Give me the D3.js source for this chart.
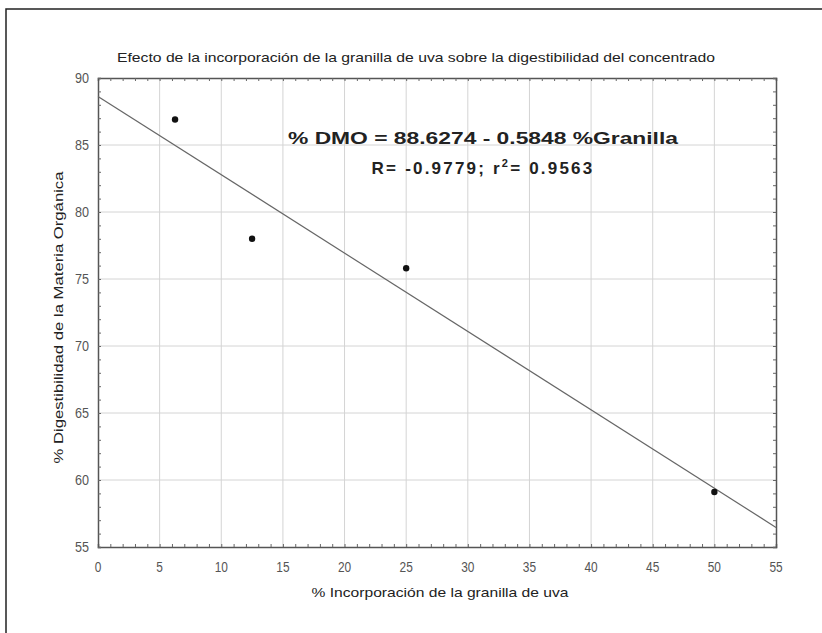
<!DOCTYPE html>
<html>
<head>
<meta charset="utf-8">
<script src="https://cdn.jsdelivr.net/npm/d3@7"></script>
<style>
  body { margin: 0; background: #fff; }
  svg text { font-family: "Liberation Sans", Arial, sans-serif; }
</style>
</head>
<body>
<svg id="chart" width="822" height="633"></svg>
<script>
// datos
const granilla = [6.25, 12.5, 25, 50];
const digestibilidad = [86.9, 78.0, 75.8, 59.1];
const xTicks = [0, 5, 10, 15, 20, 25, 30, 35, 40, 45, 50, 55];
const yTicks = [55, 60, 65, 70, 75, 80, 85, 90];
const intercept = 88.6274;
const slope = -0.5848;

const svg = d3.select('#chart');
const m = { left: 98, right: 776, top: 78, bottom: 547 };

const x = d3.scaleLinear().domain([0, 55]).range([m.left, m.right]);
const y = d3.scaleLinear().domain([55, 90]).range([m.bottom, m.top]);

// marco exterior
svg.append('path')
  .attr('d', 'M6,633 L6,9 L822,9')
  .attr('fill', 'none')
  .attr('stroke', '#222')
  .attr('stroke-width', 1.5);

// grilla
svg.append('g')
  .selectAll('line')
  .data(xTicks.slice(1, -1))
  .join('line')
  .attr('x1', (d) => x(d)).attr('x2', (d) => x(d))
  .attr('y1', m.top).attr('y2', m.bottom)
  .attr('stroke', '#d4d4d4');

svg.append('g')
  .selectAll('line')
  .data(yTicks.slice(1, -1))
  .join('line')
  .attr('y1', (d) => y(d)).attr('y2', (d) => y(d))
  .attr('x1', m.left).attr('x2', m.right)
  .attr('stroke', '#d4d4d4');

// ejes con marcas menores hacia adentro
const xMinor = d3.range(0, 56, 1);
const yMinor = d3.range(55, 91, 1);

const axisBottom = d3.axisBottom(x).tickValues(xMinor).tickSize(-3).tickFormat('');
const axisTop = d3.axisTop(x).tickValues(xMinor).tickSize(-3).tickFormat('');
const axisLeft = d3.axisLeft(y).tickValues(yMinor).tickSize(-3).tickFormat('');
const axisRight = d3.axisRight(y).tickValues(yMinor).tickSize(-3).tickFormat('');

function styleAxis(g) {
  g.select('.domain').attr('stroke', '#555').attr('stroke-width', 1.5);
  g.selectAll('.tick line').attr('stroke', '#666');
}

svg.append('g').attr('transform', `translate(0,${m.bottom})`).call(axisBottom).call(styleAxis);
svg.append('g').attr('transform', `translate(0,${m.top})`).call(axisTop).call(styleAxis);
svg.append('g').attr('transform', `translate(${m.left},0)`).call(axisLeft).call(styleAxis);
svg.append('g').attr('transform', `translate(${m.right},0)`).call(axisRight).call(styleAxis);

// etiquetas de ticks
svg.append('g')
  .selectAll('text')
  .data(xTicks)
  .join('text')
  .attr('text-anchor', 'middle')
  .attr('font-size', 14)
  .attr('fill', '#555')
  .attr('transform', (d) => `translate(${x(d)},${m.bottom + 25}) scale(0.85,1)`)
  .text((d) => d);

svg.append('g')
  .selectAll('text')
  .data(yTicks)
  .join('text')
  .attr('text-anchor', 'end')
  .attr('font-size', 14)
  .attr('fill', '#555')
  .attr('transform', (d) => `translate(${m.left - 9},${y(d) + 5}) scale(0.9,1)`)
  .text((d) => d);

// recta de regresion
const line = d3.line().x((d) => x(d)).y((d) => y(intercept + slope * d));
svg.append('path')
  .datum([0, 55])
  .attr('d', line)
  .attr('fill', 'none')
  .attr('stroke', '#666')
  .attr('stroke-width', 1.2);

// puntos
svg.append('g')
  .selectAll('circle')
  .data(granilla.map((g, i) => [g, digestibilidad[i]]))
  .join('circle')
  .attr('cx', (d) => x(d[0]))
  .attr('cy', (d) => y(d[1]))
  .attr('r', 3.2)
  .attr('fill', '#111');

// titulos
svg.append('text')
  .attr('x', 416).attr('y', 62)
  .attr('text-anchor', 'middle')
  .attr('font-size', 13)
  .attr('fill', '#222')
  .attr('textLength', 598)
  .attr('lengthAdjust', 'spacingAndGlyphs')
  .text('Efecto de la incorporación de la granilla de uva sobre la digestibilidad del concentrado');

svg.append('text')
  .attr('x', 440).attr('y', 597)
  .attr('text-anchor', 'middle')
  .attr('font-size', 13)
  .attr('fill', '#222')
  .attr('textLength', 257)
  .attr('lengthAdjust', 'spacingAndGlyphs')
  .text('% Incorporación de la granilla de uva');

svg.append('text')
  .attr('transform', `translate(63,${(m.top + m.bottom) / 2 + 5}) rotate(-90)`)
  .attr('text-anchor', 'middle')
  .attr('font-size', 13)
  .attr('fill', '#222')
  .attr('textLength', 292)
  .attr('lengthAdjust', 'spacingAndGlyphs')
  .text('% Digestibilidad de la Materia Orgánica');

// ecuacion
svg.append('text')
  .attr('x', 483).attr('y', 144)
  .attr('text-anchor', 'middle')
  .attr('font-size', 17)
  .attr('font-weight', 'bold')
  .attr('fill', '#222')
  .attr('textLength', 390)
  .attr('lengthAdjust', 'spacingAndGlyphs')
  .text('% DMO = 88.6274 - 0.5848 %Granilla');

const eq2 = svg.append('text')
  .attr('x', 483).attr('y', 174)
  .attr('text-anchor', 'middle')
  .attr('font-size', 17)
  .attr('font-weight', 'bold')
  .attr('letter-spacing', 2.2)
  .attr('fill', '#222');
eq2.append('tspan').text('R= -0.9779; r');
eq2.append('tspan').attr('dy', -7).attr('font-size', 11).text('2');
eq2.append('tspan').attr('dy', 7).text('= 0.9563');
</script>
</body>
</html>
